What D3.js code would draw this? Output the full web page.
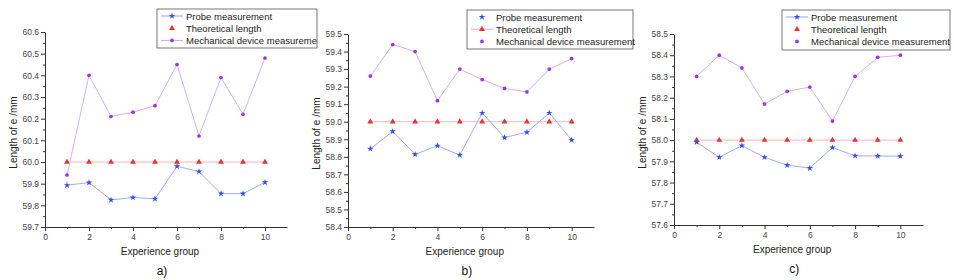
<!DOCTYPE html>
<html>
<head>
<meta charset="utf-8">
<script src="https://cdn.jsdelivr.net/npm/d3@7"></script>
<style>
body { margin: 0; background: #fff; }
svg { display: block; font-family: "Liberation Sans", Arial, sans-serif; }
.tick text { fill: #444; font-size: 8.5px; }
</style>
</head>
<body>
<div class="container"></div>
<script>
// Data
const groups = [1, 2, 3, 4, 5, 6, 7, 8, 9, 10];
const seriesNames = ["Probe measurement", "Theoretical length", "Mechanical device measurement"];

const probeA = [59.893, 59.905, 59.825, 59.836, 59.83, 59.98, 59.956, 59.854, 59.854, 59.906];
const theoryA = [60.0, 60.0, 60.0, 60.0, 60.0, 60.0, 60.0, 60.0, 60.0, 60.0];
const mechA = [59.94, 60.40, 60.21, 60.23, 60.26, 60.45, 60.12, 60.39, 60.22, 60.48];

const probeB = [58.846, 58.945, 58.814, 58.863, 58.81, 59.05, 58.91, 58.94, 59.05, 58.896];
const theoryB = [59.0, 59.0, 59.0, 59.0, 59.0, 59.0, 59.0, 59.0, 59.0, 59.0];
const mechB = [59.26, 59.44, 59.40, 59.12, 59.30, 59.24, 59.19, 59.17, 59.30, 59.36];

const probeC = [57.99, 57.919, 57.974, 57.919, 57.882, 57.868, 57.965, 57.926, 57.925, 57.924];
const theoryC = [58.0, 58.0, 58.0, 58.0, 58.0, 58.0, 58.0, 58.0, 58.0, 58.0];
const mechC = [58.30, 58.40, 58.34, 58.17, 58.23, 58.25, 58.09, 58.30, 58.39, 58.40];

const yTicksA = [59.7, 59.8, 59.9, 60.0, 60.1, 60.2, 60.3, 60.4, 60.5, 60.6];
const yTicksB = [58.4, 58.5, 58.6, 58.7, 58.8, 58.9, 59.0, 59.1, 59.2, 59.3, 59.4, 59.5];
const yTicksC = [57.6, 57.7, 57.8, 57.9, 58.0, 58.1, 58.2, 58.3, 58.4, 58.5];
const xTicks = [0, 2, 4, 6, 8, 10];

const w = 954;
const h = 280;

const colors = {
  probe: "#2f4cf5", probeLine: "#93a5f0",
  theory: "#f03030", theoryLine: "#f2b4b4",
  mech: "#9b30f5", mechLine: "#cfa6f2"
};

const panels = [
  { probe: probeA, theory: theoryA, mech: mechA, yTicks: yTicksA,
    x0: 45, x1: 287, yTop: 32, yBot: 227, label: "a)",
    legend: { x: 157, y: 9, w: 160, h: 39, probeLine: true, theoryLine: false, mechLine: true, mechName: "Mechanical device measureme" } },
  { probe: probeB, theory: theoryB, mech: mechB, yTicks: yTicksB,
    x0: 348, x1: 594, yTop: 34, yBot: 227, label: "b)",
    legend: { x: 467, y: 10, w: 166, h: 39, probeLine: false, theoryLine: true, mechLine: false, mechName: seriesNames[2] } },
  { probe: probeC, theory: theoryC, mech: mechC, yTicks: yTicksC,
    x0: 674, x1: 923, yTop: 34, yBot: 225, label: "c)",
    legend: { x: 782, y: 10, w: 168, h: 40, probeLine: true, theoryLine: false, mechLine: false, mechName: seriesNames[2] } }
];

const svg = d3.select(".container")
  .append("svg")
  .attr("width", w)
  .attr("height", h);

const star = d3.symbol().type(d3.symbolStar).size(13);
const tri = d3.symbol().type(d3.symbolTriangle).size(15);
const dot = d3.symbol().type(d3.symbolCircle).size(11);

panels.forEach(p => {
  const g = svg.append("g");
  const yDom = d3.extent(p.yTicks);

  const xScale = d3.scaleLinear().domain([0, 11]).range([p.x0, p.x1]);
  const yScale = d3.scaleLinear().domain(yDom).range([p.yBot, p.yTop]);

  // minor ticks
  const xMinor = d3.range(1, 11, 2);
  const yMinor = p.yTicks.slice(1).map(v => v - 0.05);

  g.append("g")
    .attr("transform", `translate(0,${p.yBot})`)
    .call(d3.axisBottom(xScale).tickValues(xMinor).tickSize(2).tickFormat(""))
    .call(a => a.select(".domain").remove())
    .call(a => a.selectAll("line").attr("stroke", "#333"));
  g.append("g")
    .attr("transform", `translate(${p.x0},0)`)
    .call(d3.axisLeft(yScale).tickValues(yMinor).tickSize(2).tickFormat(""))
    .call(a => a.select(".domain").remove())
    .call(a => a.selectAll("line").attr("stroke", "#333"));

  g.append("g")
    .attr("transform", `translate(0,${p.yBot})`)
    .call(d3.axisBottom(xScale).tickValues(xTicks).tickSize(4).tickSizeOuter(0).tickPadding(3))
    .call(a => a.select(".domain").attr("stroke", "#333"))
    .call(a => a.selectAll("line").attr("stroke", "#333"));
  g.append("g")
    .attr("transform", `translate(${p.x0},0)`)
    .call(d3.axisLeft(yScale).tickValues(p.yTicks).tickSize(4).tickSizeOuter(0).tickPadding(2).tickFormat(d3.format(".1f")))
    .call(a => a.select(".domain").attr("stroke", "#333"))
    .call(a => a.selectAll("line").attr("stroke", "#333"));

  // axis titles
  g.append("text")
    .attr("x", (p.x0 + xScale(10)) / 2 + 5)
    .attr("y", p.yBot + 28)
    .attr("text-anchor", "middle")
    .style("font-size", "10px")
    .attr("fill", "#222")
    .text("Experience group");
  g.append("text")
    .attr("transform", `translate(${p.x0 - 28},${(p.yTop + p.yBot) / 2 + 3}) rotate(-90)`)
    .attr("text-anchor", "middle")
    .style("font-size", "10px")
    .attr("fill", "#222")
    .text("Length of e /mm");
  g.append("text")
    .attr("x", (p.x0 + xScale(10)) / 2 + 7)
    .attr("y", p.yBot + 48)
    .attr("text-anchor", "middle")
    .style("font-size", "12px")
    .attr("fill", "#111")
    .text(p.label);

  const line = d3.line().x((d, i) => xScale(groups[i])).y(d => yScale(d));

  const series = [
    { vals: p.theory, lc: colors.theoryLine, mc: colors.theory, sym: tri },
    { vals: p.mech, lc: colors.mechLine, mc: colors.mech, sym: dot },
    { vals: p.probe, lc: colors.probeLine, mc: colors.probe, sym: star }
  ];
  series.forEach(s => {
    g.append("path")
      .datum(s.vals)
      .attr("d", line)
      .attr("fill", "none")
      .attr("stroke", s.lc)
      .attr("stroke-width", 0.9);
    g.selectAll(null)
      .data(s.vals)
      .enter()
      .append("path")
      .attr("d", s.sym)
      .attr("transform", (d, i) => `translate(${xScale(groups[i])},${yScale(d)})`)
      .attr("fill", s.mc);
  });

  // legend
  const L = p.legend;
  const lg = g.append("g").attr("transform", `translate(${L.x},${L.y})`);
  lg.append("rect")
    .attr("width", L.w).attr("height", L.h)
    .attr("fill", "#fff").attr("stroke", "#555").attr("stroke-width", 0.8);
  const items = [
    { name: seriesNames[0], lc: colors.probeLine, mc: colors.probe, sym: star, ln: L.probeLine },
    { name: seriesNames[1], lc: colors.theoryLine, mc: colors.theory, sym: tri, ln: L.theoryLine },
    { name: L.mechName, lc: colors.mechLine, mc: colors.mech, sym: dot, ln: L.mechLine }
  ];
  items.forEach((it, i) => {
    const yy = 7 + i * 12.2;
    if (it.ln) {
      lg.append("line")
        .attr("x1", 4).attr("x2", 26).attr("y1", yy).attr("y2", yy)
        .attr("stroke", it.lc).attr("stroke-width", 1);
    }
    lg.append("path")
      .attr("d", it.sym)
      .attr("transform", `translate(15,${yy})`)
      .attr("fill", it.mc);
    lg.append("text")
      .attr("x", 29)
      .attr("y", yy + 3.5)
      .style("font-size", "9.5px")
      .attr("fill", "#222")
      .text(it.name);
  });
});
</script>
</body>
</html>
